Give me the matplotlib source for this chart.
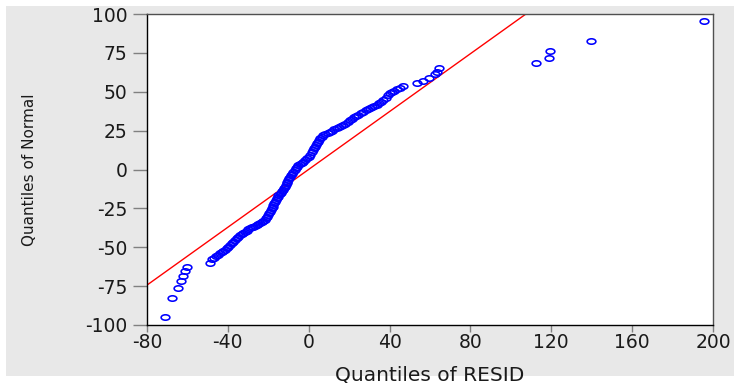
import matplotlib
matplotlib.use("Agg")
import matplotlib.pyplot as plt
from matplotlib import font_manager
from matplotlib.path import Path
from matplotlib.transforms import Affine2D
from matplotlib.patches import Rectangle

# Sorted residual quantiles (x) and matching normal quantiles (y)
resid_q = [-71.1, -67.8, -64.5, -63.2, -62.3, -61.2, -60.1, -48.8, -48.0,
           -47.0, -46.0, -45.0, -43.9, -43.0, -42.2, -41.4, -40.6, -39.8, -38.9,
           -38.1, -37.3, -36.5, -35.7, -34.8, -34.0, -33.2, -32.3, -31.5, -30.7,
           -29.8, -29.0, -28.2, -27.4, -26.6, -25.8, -24.9, -24.1, -23.3, -22.4,
           -21.6, -21.0, -20.5, -20.0, -19.6, -19.1, -18.7, -18.3, -17.9, -17.5,
           -17.1, -16.7, -16.3, -15.8, -15.4, -15.0, -14.4, -13.8, -13.2, -12.6,
           -12.2, -11.8, -11.3, -10.9, -10.5, -10.1, -9.7, -9.3, -8.7, -8.2,
           -7.6, -7.0, -6.5, -5.9, -5.1, -4.3, -3.5, -2.6, -1.8, -0.9,
           -0.1, 0.7, 1.5, 2.3, 2.8, 3.2, 3.6, 4.1, 4.6, 5.1,
           5.6, 6.4, 7.3, 8.1, 9.3, 10.5, 11.6, 12.7, 13.8, 14.9,
           15.9, 17.0, 18.1, 19.3, 20.4, 21.4, 22.4, 23.4, 24.6, 25.8,
           27.0, 28.1, 29.2, 30.3, 31.4, 32.5, 33.6, 34.7, 35.8, 36.9,
           38.0, 39.1, 40.2, 41.3, 42.4, 43.5, 45.2, 46.8,
           53.4, 56.4, 59.3, 62.3, 63.4, 64.5, 112.4, 118.9, 119.2, 139.6, 195.7]
normal_q = [-95.0, -82.4, -76.0, -71.7, -68.5, -65.3, -62.5, -59.9, -57.7,
            -56.8, -55.9, -55.0, -53.9, -53.1, -52.4, -51.8, -50.8, -49.7, -48.6,
            -47.5, -46.4, -45.3, -44.2, -43.2, -42.1, -41.4, -40.7, -40.0, -39.3,
            -38.5, -37.8, -37.2, -36.7, -36.1, -35.6, -35.1, -34.6, -33.9, -33.2,
            -32.5, -31.4, -30.4, -29.3, -28.2, -27.1, -26.0, -24.9, -23.9, -22.8,
            -21.8, -20.7, -19.6, -18.5, -17.5, -16.4, -15.6, -14.8, -14.0, -13.2,
            -12.1, -11.1, -10.0, -9.0, -7.9, -6.8, -5.7, -4.6, -3.6, -2.6,
            -1.6, -0.5, 0.7, 1.8, 2.6, 3.5, 4.2, 5.0, 6.1, 7.1,
            8.2, 9.6, 11.1, 12.5, 13.6, 14.7, 15.8, 16.9, 18.0, 19.0,
            20.1, 21.0, 21.9, 22.8, 23.5, 24.3, 25.0, 25.8, 26.5, 27.1,
            27.7, 28.3, 29.5, 30.6, 31.8, 32.7, 33.5, 34.4, 35.3, 36.3,
            37.2, 38.0, 38.7, 39.5, 40.2, 40.8, 41.5, 42.6, 43.6, 44.7,
            46.1, 47.6, 49.0, 49.9, 50.7, 51.6, 52.6, 53.7,
            55.4, 56.9, 58.6, 61.4, 62.9, 65.1, 68.3, 71.9, 76.4, 82.6, 95.5]

# Reference line
fit_slope = 0.93
fit_intercept = 0.07

x_ticks = [-80, -40, 0, 40, 80, 120, 160, 200]
y_ticks = [-100, -75, -50, -25, 0, 25, 50, 75, 100]
x_label = "Quantiles of RESID"
y_label = "Quantiles of Normal"

plt.rcParams['axes.unicode_minus'] = False

W, H = 734, 383
fig = plt.figure(figsize=(W / 100, H / 100), dpi=100)
fig.patch.set_facecolor('white')
fig.patches.append(Rectangle((6 / W, 7 / H), 1 - 6 / W, 1 - 13 / H,
                             transform=fig.transFigure, facecolor='#e8e8e8',
                             edgecolor='none', zorder=-10))

ax = fig.add_axes([147 / W, (H - 325) / H, (713 - 147) / W, (325 - 14) / H])
ax.set_facecolor('white')

ell = Path.unit_circle().transformed(Affine2D().scale(1.0, 0.62))
ax.plot(resid_q, normal_q, linestyle='none', marker=ell, markersize=6.3,
        markerfacecolor='none', markeredgecolor='#0000ff', markeredgewidth=1.15,
        clip_on=False, zorder=3)
ax.axline((0, fit_intercept), slope=fit_slope, color='#ff0000', linewidth=1.0, zorder=2)

ax.set_xlim(-80, 200)
ax.set_ylim(-100, 100)
ax.set_xticks(x_ticks)
ax.set_yticks(y_ticks)
ax.set_xticklabels([str(v) for v in x_ticks], family='DejaVu Sans', fontsize=13.5)
ax.set_yticklabels([str(v) for v in y_ticks], family='DejaVu Sans', fontsize=13.5)
ax.tick_params(axis='y', direction='out', length=10, width=1, color='#808080', pad=4,
               labelcolor='#1a1a1a')
ax.tick_params(axis='x', direction='out', length=5, width=1, color='#808080', pad=1,
               labelcolor='#1a1a1a')
for s in ['left', 'bottom']:
    ax.spines[s].set_color('#000000')
    ax.spines[s].set_linewidth(1.0)
for s in ['top', 'right']:
    ax.spines[s].set_color('#505050')
    ax.spines[s].set_linewidth(1.0)

fig.text(430 / W, 1 - 375 / H, x_label, ha='center', va='center',
         family='DejaVu Sans', fontsize=14.5, color='#1a1a1a')


def _has_font(name):
    try:
        font_manager.findfont(font_manager.FontProperties(family=name),
                              fallback_to_default=False)
        return True
    except Exception:
        return False


if _has_font('Liberation Sans Narrow'):
    ylab_family, ylab_size = 'Liberation Sans Narrow', 13.0
elif _has_font('DejaVu Sans Condensed'):
    ylab_family, ylab_size = 'DejaVu Sans Condensed', 11.5
else:
    ylab_family, ylab_size = 'DejaVu Sans', 11.0

fig.text(30 / W, 1 - 170 / H, y_label, ha='center', va='center', rotation=90,
         family=ylab_family, fontsize=ylab_size, color='#1a1a1a')

fig.savefig('out.png', dpi=100)
